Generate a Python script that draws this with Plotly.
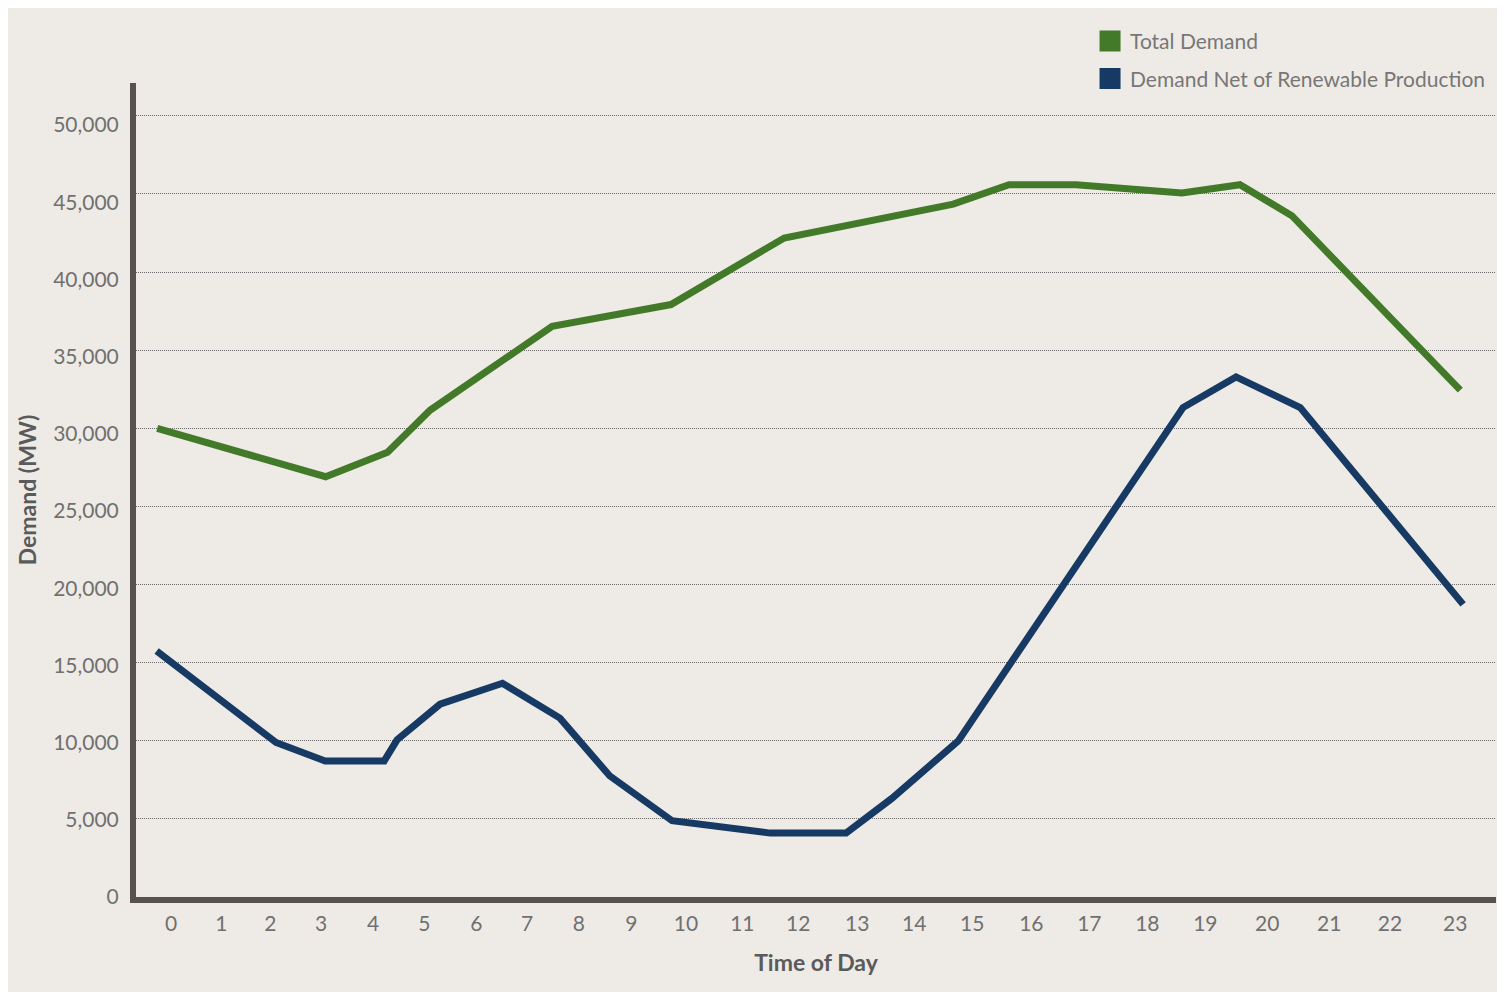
import plotly.graph_objects as go

# ---- data ----
hour_labels = [str(h) for h in range(24)]
# positions of the hour labels along the time axis (the source axis is slightly non-uniform)
tick_pos = [0, 0.90, 1.78, 2.69, 3.62, 4.54, 5.47, 6.38, 7.31, 8.25, 9.23, 10.24,
            11.24, 12.30, 13.32, 14.36, 15.42, 16.46, 17.50, 18.54, 19.65, 20.76, 21.85, 23.02]

total_x = [-0.25, 2.77, 3.88, 4.64, 6.83, 8.96, 10.99, 14.02, 15.02, 16.22, 18.12, 19.16, 20.09, 23.11]
total_y = [29990, 26900, 28470, 31150, 36530, 37920, 42180, 44350, 45590, 45590, 45060, 45590, 43610, 32440]

net_x = [-0.26, 1.88, 2.76, 3.82, 4.05, 4.82, 5.94, 6.97, 7.86, 8.98, 10.74, 12.10, 12.92, 14.11,
         18.14, 19.09, 20.24, 23.16]
net_y = [15740, 9890, 8710, 8710, 10060, 12340, 13680, 11450, 7760, 4880, 4090, 4090, 6310, 9990,
         31330, 33290, 31330, 18730]

y_ticks = [0, 5000, 10000, 15000, 20000, 25000, 30000, 35000, 40000, 45000, 50000]

# ---- style ----
GREEN = "#437A29"
BLUE = "#173A64"
BG = "#EEEBE6"
AXIS = "#57514F"
FONT = "Lato"

fig = go.Figure()

fig.add_trace(go.Scatter(x=total_x, y=total_y, mode="lines", name="Total Demand",
                         line=dict(color=GREEN, width=7), showlegend=False))
fig.add_trace(go.Scatter(x=net_x, y=net_y, mode="lines", name="Demand Net of Renewable Production",
                         line=dict(color=BLUE, width=7), showlegend=False))

# legend entries with square swatches (placed on the label axis)
fig.add_trace(go.Scatter(x=[None], y=[None], mode="markers", name="Total Demand",
                         legendgroup="a", yaxis="y2",
                         marker=dict(symbol="square", size=16, color=GREEN,
                                     line=dict(color=GREEN, width=5))))
fig.add_trace(go.Scatter(x=[None], y=[None], mode="markers", name="Demand Net of Renewable Production",
                         legendgroup="b", yaxis="y2",
                         marker=dict(symbol="square", size=16, color=BLUE,
                                     line=dict(color=BLUE, width=5))))

fig.update_layout(
    width=1505, height=992,
    margin=dict(l=128, r=17, t=75, b=103),
    paper_bgcolor=BG,
    plot_bgcolor=BG,
    font=dict(family=FONT, size=21, color="#707070"),
    showlegend=True,
    legend=dict(x=0.7015, xanchor="left", y=1.0762, yanchor="top",
                bgcolor="rgba(0,0,0,0)", font=dict(family=FONT, size=21, color="#777777"),
                tracegroupgap=7, itemclick=False),
    yaxis2=dict(
        overlaying="y", side="left", anchor="x",
        range=[0, 52717],
        tickmode="array", tickvals=y_ticks, tickformat=",d",
        showgrid=False, zeroline=False,
        showline=True, linecolor="rgba(0,0,0,0)", linewidth=6,
        ticks="", ticklabelstandoff=7,
        tickfont=dict(family=FONT, size=21, color="#707070"),
        title=dict(text="Demand (MW)", standoff=12,
                   font=dict(family=FONT, size=23, color="#5A5A5A", weight="bold")),
    ),
)

fig.update_xaxes(
    range=[-0.63, 23.75],
    tickmode="array", tickvals=tick_pos, ticktext=hour_labels,
    showgrid=False, zeroline=False,
    showline=True, linecolor=AXIS, linewidth=6,
    ticks="", ticklabelstandoff=3,
    tickfont=dict(family=FONT, size=21, color="#707070"),
    title=dict(text="Time of Day", standoff=23,
               font=dict(family=FONT, size=23, color="#5A5A5A", weight="bold")),
)
fig.update_layout(yaxis=dict(
    range=[0, 52100],
    tickmode="array", tickvals=y_ticks, showticklabels=False,
    showgrid=True, gridcolor="#6A6A6A", gridwidth=1, griddash="1px,1px",
    zeroline=False,
    showline=True, linecolor=AXIS, linewidth=6,
    ticks="",
))

fig.write_html("out.html")
